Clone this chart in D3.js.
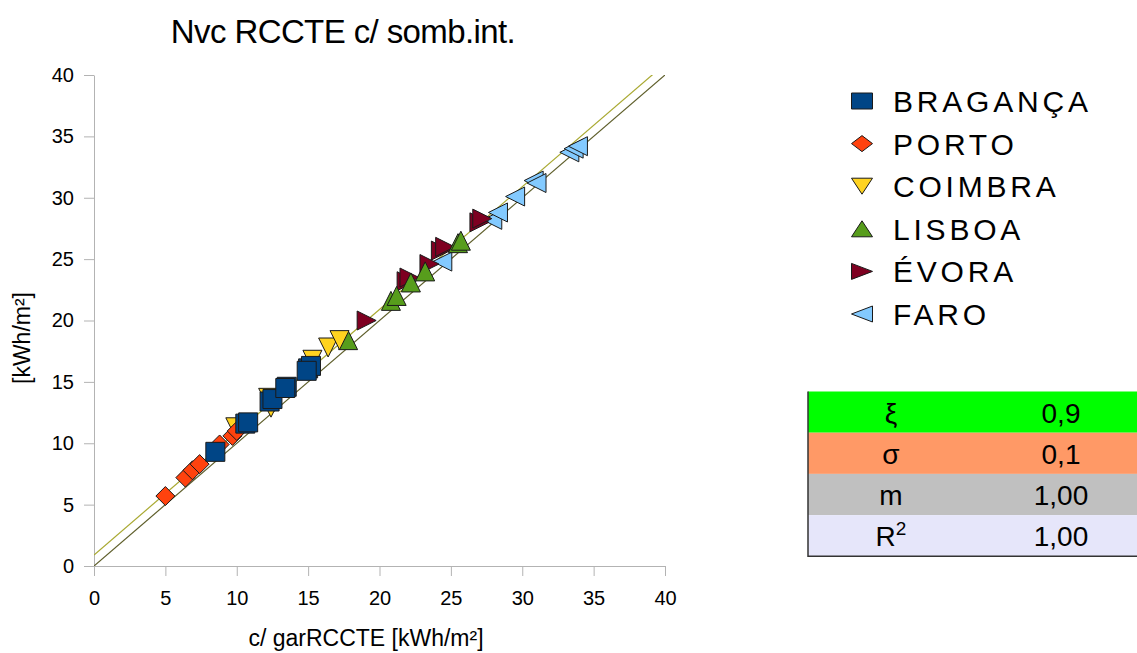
<!DOCTYPE html>
<html>
<head>
    <meta charset="utf-8">
    <title>Nvc RCCTE</title>
    <script src="https://d3js.org/d3.v7.min.js"></script>
    <style>
        body { margin: 0; background: #fff; }
        text { font-family: "Liberation Sans", Arial, sans-serif; fill: #000; }
        .axis path, .axis line { stroke: #b3b3b3; }
        .axis text { font-size: 20px; }
    </style>
</head>
<body>
<svg width="1137" height="653"></svg>
<script>
    // series names, colours, marker shape
    var seriesNames = ["BRAGANÇA", "PORTO", "COIMBRA", "LISBOA", "ÉVORA", "FARO"];
    var seriesColors = ["#004586", "#ff420e", "#ffd320", "#579d1c", "#7e0021", "#83caff"];
    var seriesShapes = ["square", "diamond", "down", "up", "right", "left"];

    // x = c/ garRCCTE, y = Nvc RCCTE c/ somb.int.
    var braganca = [[8.5, 9.3], [10.6, 11.6], [10.8, 11.7], [12.3, 13.4], [12.5, 13.6], [13.5, 14.6], [13.4, 14.5], [15.0, 16.1], [15.2, 16.3], [14.9, 15.9]];
    var porto = [[5.0, 5.7], [6.4, 7.2], [6.9, 7.8], [7.4, 8.3], [8.8, 9.9], [9.7, 10.6], [10.0, 11.0]];
    var coimbra = [[9.9, 11.3], [12.2, 13.7], [12.4, 12.9], [15.3, 16.8], [16.4, 17.8], [17.2, 18.4]];
    var lisboa = [[17.8, 18.4], [20.8, 21.6], [21.2, 22.0], [22.2, 23.1], [23.2, 24.0], [25.5, 26.3], [25.7, 26.5]];
    var evora = [[19.1, 20.0], [21.9, 23.2], [22.1, 23.5], [23.5, 24.6], [24.3, 25.7], [24.6, 26.0], [27.0, 28.0], [27.2, 28.3]];
    var faro = [[24.4, 24.8], [27.9, 28.2], [28.3, 28.8], [29.5, 30.1], [30.8, 31.4], [31.0, 31.2], [33.3, 33.7], [33.6, 34.0], [33.9, 34.2]];
    var seriesData = [braganca, porto, coimbra, lisboa, evora, faro];

    // fitted line (the other line is y = x)
    var fitSlope = 1.00, fitIntercept = 0.9;

    var xTicks = [0, 5, 10, 15, 20, 25, 30, 35, 40];
    var yTicks = [0, 5, 10, 15, 20, 25, 30, 35, 40];

    var statLabels = ["ξ", "σ", "m", "R"];
    var statValues = ["0,9", "0,1", "1,00", "1,00"];
    var statColors = ["#00ff00", "#ff9966", "#c0c0c0", "#e6e6fa"];

    var svg = d3.select("svg");
    var pLeft = 94, pRight = 665, pTop = 75, pBottom = 566;

    var x = d3.scaleLinear().domain([0, 40]).range([pLeft, pRight]);
    var y = d3.scaleLinear().domain([0, 40]).range([pBottom, pTop]);

    // title
    svg.append("text")
        .attr("x", 343).attr("y", 43)
        .attr("text-anchor", "middle")
        .style("font-size", "33px")
        .style("letter-spacing", "-0.6px")
        .text("Nvc RCCTE c/ somb.int.");

    // axes
    svg.append("g").attr("class", "axis")
        .attr("transform", "translate(0," + pBottom + ")")
        .call(d3.axisBottom(x).tickValues(xTicks).tickSize(10).tickSizeOuter(0).tickPadding(15));
    svg.append("g").attr("class", "axis")
        .attr("transform", "translate(" + pLeft + ",0)")
        .call(d3.axisLeft(y).tickValues(yTicks).tickSize(10).tickSizeOuter(0).tickPadding(10));

    svg.append("text")
        .attr("x", 366).attr("y", 646)
        .attr("text-anchor", "middle")
        .style("font-size", "23px")
        .text("c/ garRCCTE [kWh/m²]");
    svg.append("text")
        .attr("transform", "translate(30,338) rotate(-90)")
        .attr("text-anchor", "middle")
        .style("font-size", "23px")
        .text("[kWh/m²]");

    // lines, clipped to plot
    svg.append("clipPath").attr("id", "plot")
        .append("rect").attr("x", pLeft).attr("y", pTop).attr("width", pRight - pLeft).attr("height", pBottom - pTop);
    var lines = svg.append("g").attr("clip-path", "url(#plot)");
    lines.append("line")
        .attr("x1", x(0)).attr("y1", y(0)).attr("x2", x(40)).attr("y2", y(40))
        .attr("stroke", "#5e5e2a").attr("stroke-width", 1.2);
    lines.append("line")
        .attr("x1", x(0)).attr("y1", y(fitIntercept))
        .attr("x2", x(40)).attr("y2", y(40 * fitSlope + fitIntercept))
        .attr("stroke", "#a9a931").attr("stroke-width", 1.2);

    function markerPath(shape, w, h) {
        var a = w / 2, b = h / 2;
        if (shape == "square") return "M" + -a + "," + -b + "H" + a + "V" + b + "H" + -a + "Z";
        if (shape == "diamond") return "M0," + -b + "L" + a + ",0L0," + b + "L" + -a + ",0Z";
        if (shape == "down") return "M" + -a + "," + -b + "H" + a + "L0," + b + "Z";
        if (shape == "up") return "M" + -a + "," + b + "H" + a + "L0," + -b + "Z";
        if (shape == "right") return "M" + -a + "," + -b + "V" + b + "L" + a + ",0Z";
        return "M" + a + "," + -b + "V" + b + "L" + -a + ",0Z";
    }

    // draw last series first so Bragança ends on top
    d3.range(seriesNames.length).reverse().forEach(function (i) {
        svg.append("g").selectAll("path")
            .data(seriesData[i])
            .enter().append("path")
            .attr("transform", d => "translate(" + x(d[0]) + "," + y(d[1]) + ")")
            .attr("d", markerPath(seriesShapes[i], 19, 19))
            .attr("fill", seriesColors[i])
            .attr("stroke", "#1a1a1a")
            .attr("stroke-width", 1);
    });

    // legend
    var legend = svg.append("g").selectAll("g")
        .data(seriesNames)
        .enter().append("g")
        .attr("transform", (d, i) => "translate(862," + (101 + i * 42.6) + ")");
    legend.append("path")
        .attr("d", (d, i) => markerPath(seriesShapes[i], 21, 16))
        .attr("fill", (d, i) => seriesColors[i])
        .attr("stroke", "#1a1a1a");
    legend.append("text")
        .attr("x", 31).attr("y", 11)
        .style("font-size", "30px")
        .style("letter-spacing", "3.8px")
        .text(d => d);

    // stats table
    var rowH = 41.2, tTop = 391.5, tLeft = 808;
    var rows = svg.append("g").selectAll("g")
        .data(statLabels)
        .enter().append("g")
        .attr("transform", (d, i) => "translate(" + tLeft + "," + (tTop + i * rowH) + ")");
    rows.append("rect")
        .attr("width", 1137 - tLeft).attr("height", rowH)
        .attr("fill", (d, i) => statColors[i]);
    rows.append("text")
        .attr("x", 83).attr("y", 31)
        .attr("text-anchor", "middle")
        .style("font-size", "28px")
        .text(d => d)
        .filter(d => d == "R")
        .append("tspan").attr("dy", -11).style("font-size", "19px").text("2");
    rows.append("text")
        .attr("x", 253).attr("y", 31)
        .attr("text-anchor", "middle")
        .style("font-size", "28px")
        .text((d, i) => statValues[i]);
    svg.append("path")
        .attr("d", "M" + tLeft + "," + tTop + "V" + (tTop + 4 * rowH) + "H1137")
        .attr("fill", "none").attr("stroke", "#333").attr("stroke-width", 1.5);
</script>
</body>
</html>
